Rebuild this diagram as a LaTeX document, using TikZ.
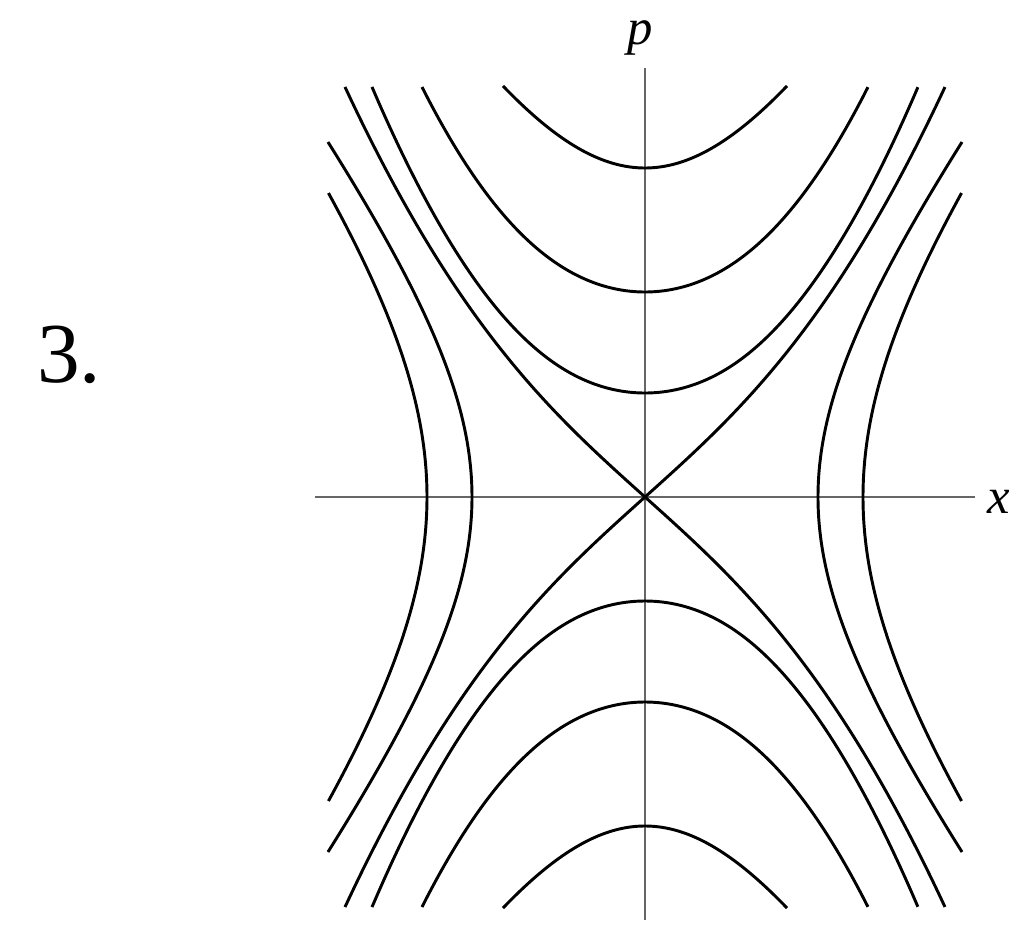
\documentclass[tikz,border=0pt]{standalone}
\usepackage{fontspec}
\setmainfont{Liberation Serif}
\begin{document}
\begin{tikzpicture}[x=75pt,y=75pt,
  curve/.style={line width=2.2pt,black},
  axis/.style={line width=1.4pt,black!60},
  lbl/.style={font=\fontsize{38}{40}\selectfont\itshape,inner sep=0pt}]
\useasboundingbox (-6.45,-4.32) rectangle (3.74,4.97);
% axes
\draw[axis] (-3.30,0) -- (3.30,0);
\draw[axis] (0,-4.23) -- (0,4.29);
\node[lbl,anchor=base] (plabel) at (-0.05,4.52) {p};
\node[lbl,anchor=base west] (xlabel) at (3.42,-0.16) {x};
\node[font=\fontsize{64}{70}\selectfont,inner sep=0pt,anchor=base west] (num) at (-6.08,1.15) {3.};
\foreach \s in {1,-1}{
  % hyperbolas opening up/down
  \draw[curve] plot[domain=-1.42:1.42,samples=61,smooth] (\x,{\s*sqrt(10.8241+3.01*\x*\x)});
  \draw[curve] plot[domain=-2.23:2.23,samples=81,smooth] (\x,{\s*sqrt(4.2025+1.433*\x*\x+0.2216*(\x*\x)*(\x*\x))});
  \draw[curve] plot[domain=-2.73:2.73,samples=91,smooth] (\x,{\s*sqrt(1.0816+0.712*\x*\x+0.1877*(\x*\x)*(\x*\x))});
  % separatrices
  \draw[curve] plot[domain=-3:3,samples=101,smooth] (\x,{\s*\x*sqrt(0.805+0.1181*\x*\x)});
  % hyperbolas opening left/right
  \draw[curve] plot[domain=-3.55:3.55,samples=101,smooth] ({\s*sqrt(2.9929+0.56*\x*\x)},\x);
  \draw[curve] plot[domain=-3.04:3.04,samples=91,smooth] ({\s*sqrt(4.7524+0.57*\x*\x)},\x);
}
\end{tikzpicture}
\end{document}
